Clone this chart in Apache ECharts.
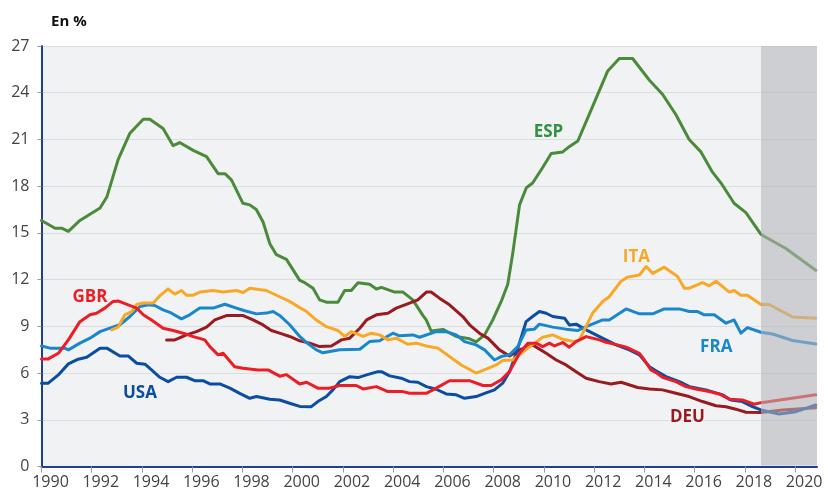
<!DOCTYPE html>
<html lang="fr">
<head>
    <meta charset="UTF-8">
    <title>Taux de chômage</title>
    <script src="https://cdn.jsdelivr.net/npm/echarts@6/dist/echarts.min.js"></script>
    <style>
        html, body { margin: 0; padding: 0; background: #fff; }
        #main { width: 828px; height: 493px; }
    </style>
</head>
<body>
    <div id="main"></div>
    <script type="text/javascript">
        // années (décimales) / taux en %
        var esp = [[1990.0,15.8],[1990.54,15.3],[1990.8,15.3],[1991.07,15.1],[1991.53,15.8],[1991.93,16.2],[1992.33,16.6],[1992.6,17.3],[1993.05,19.7],[1993.52,21.4],[1994.05,22.3],[1994.31,22.3],[1994.84,21.7],[1995.24,20.6],[1995.5,20.8],[1996.04,20.3],[1996.57,19.9],[1997.03,18.8],[1997.3,18.8],[1997.56,18.4],[1998.02,16.9],[1998.29,16.8],[1998.55,16.5],[1998.82,15.7],[1999.09,14.3],[1999.35,13.6],[1999.75,13.3],[2000.28,11.95],[2000.48,11.8],[2000.81,11.45],[2001.07,10.7],[2001.34,10.55],[2001.8,10.55],[2002.07,11.3],[2002.33,11.3],[2002.6,11.8],[2003.06,11.7],[2003.33,11.4],[2003.53,11.5],[2004.06,11.2],[2004.39,11.2],[2004.78,10.7],[2005.18,9.7],[2005.32,9.4],[2005.51,8.7],[2005.98,8.8],[2006.51,8.35],[2007.04,8.2],[2007.3,8.0],[2007.64,8.45],[2007.96,9.4],[2008.3,10.6],[2008.56,11.7],[2008.76,13.7],[2009.03,16.8],[2009.3,17.9],[2009.55,18.2],[2009.95,19.2],[2010.29,20.1],[2010.75,20.2],[2011.02,20.55],[2011.35,20.9],[2011.88,22.9],[2012.54,25.4],[2013.0,26.2],[2013.53,26.2],[2014.2,24.8],[2014.72,23.9],[2015.25,22.6],[2015.78,21.0],[2016.25,20.2],[2016.71,18.9],[2017.05,18.2],[2017.57,16.9],[2018.04,16.3],[2018.64,14.9],[2019.63,14.0],[2020.82,12.6]];
        var ita = [[1992.79,8.77],[1993.05,8.95],[1993.32,9.74],[1993.59,9.95],[1993.79,10.4],[1994.05,10.5],[1994.45,10.5],[1994.71,10.96],[1995.04,11.4],[1995.31,11.07],[1995.57,11.3],[1995.77,11.0],[1996.04,11.0],[1996.3,11.2],[1996.83,11.3],[1997.23,11.2],[1997.76,11.3],[1998.03,11.17],[1998.29,11.45],[1998.95,11.3],[1999.48,10.9],[1999.88,10.6],[2000.28,10.2],[2000.55,9.95],[2000.94,9.4],[2001.34,8.98],[2001.8,8.73],[2002.07,8.35],[2002.33,8.66],[2002.8,8.35],[2003.13,8.56],[2003.46,8.45],[2003.79,8.13],[2004.12,8.24],[2004.58,7.85],[2004.92,7.92],[2005.32,7.74],[2005.78,7.6],[2006.24,7.06],[2006.71,6.52],[2007.3,6.0],[2007.7,6.25],[2008.1,6.52],[2008.36,6.8],[2008.76,6.84],[2009.36,7.6],[2009.95,8.3],[2010.35,8.45],[2010.75,8.17],[2011.21,8.02],[2011.41,8.13],[2011.94,9.85],[2012.34,10.6],[2012.6,10.9],[2013.07,11.9],[2013.33,12.16],[2013.8,12.3],[2014.07,12.84],[2014.33,12.4],[2014.79,12.8],[2015.32,12.2],[2015.59,11.45],[2015.79,11.45],[2016.31,11.8],[2016.58,11.6],[2016.85,11.9],[2017.38,11.2],[2017.57,11.3],[2017.84,11.0],[2018.1,11.0],[2018.64,10.4],[2018.97,10.4],[2019.9,9.6],[2020.82,9.52]];
        var fra = [[1990.0,7.74],[1990.34,7.6],[1990.93,7.6],[1991.07,7.49],[1991.53,7.92],[1991.93,8.24],[1992.33,8.66],[1992.72,8.88],[1993.12,9.1],[1993.52,9.63],[1993.92,10.27],[1994.25,10.38],[1994.51,10.34],[1994.84,10.06],[1995.11,9.9],[1995.57,9.48],[1995.9,9.74],[1996.3,10.17],[1996.83,10.17],[1997.3,10.42],[1997.76,10.17],[1998.09,10.0],[1998.56,9.8],[1998.95,9.85],[1999.22,9.95],[1999.48,9.7],[1999.88,9.1],[2000.28,8.35],[2000.55,7.96],[2000.94,7.49],[2001.2,7.3],[2001.87,7.49],[2002.67,7.53],[2003.06,8.02],[2003.46,8.07],[2003.99,8.56],[2004.25,8.39],[2004.78,8.45],[2005.05,8.3],[2005.71,8.66],[2006.11,8.66],[2006.51,8.45],[2006.84,8.02],[2007.3,7.81],[2007.64,7.49],[2008.03,6.84],[2008.3,7.06],[2008.63,7.17],[2008.96,7.7],[2009.29,8.77],[2009.62,8.82],[2009.82,9.14],[2010.35,8.95],[2010.88,8.82],[2011.34,8.73],[2011.68,8.98],[2012.34,9.41],[2012.6,9.41],[2013.27,10.12],[2013.8,9.8],[2014.33,9.8],[2014.79,10.12],[2015.39,10.12],[2015.79,9.95],[2016.12,9.95],[2016.38,9.74],[2016.78,9.74],[2017.25,9.2],[2017.57,9.41],[2017.84,8.56],[2018.1,8.92],[2018.64,8.62],[2019.1,8.51],[2019.9,8.09],[2020.82,7.87]];
        var gbr = [[1990.0,6.91],[1990.27,6.91],[1990.67,7.27],[1991.07,8.13],[1991.53,9.3],[1991.93,9.74],[1992.19,9.84],[1992.52,10.17],[1992.85,10.6],[1993.05,10.63],[1993.45,10.38],[1993.79,10.17],[1994.05,9.74],[1994.38,9.41],[1994.84,8.88],[1995.24,8.73],[1995.64,8.56],[1996.04,8.34],[1996.5,8.13],[1996.7,7.7],[1997.03,7.17],[1997.23,7.27],[1997.69,6.41],[1998.02,6.31],[1998.62,6.2],[1999.02,6.2],[1999.48,5.8],[1999.75,5.9],[2000.01,5.6],[2000.28,5.3],[2000.55,5.41],[2001.0,5.03],[2001.47,5.03],[2001.87,5.2],[2002.53,5.2],[2002.8,4.98],[2003.33,5.13],[2003.79,4.81],[2004.39,4.81],[2004.65,4.7],[2005.32,4.7],[2005.71,5.03],[2006.24,5.51],[2007.04,5.51],[2007.57,5.2],[2007.9,5.2],[2008.3,5.56],[2008.63,6.1],[2009.03,7.27],[2009.36,7.92],[2009.69,7.92],[2009.95,7.7],[2010.22,7.92],[2010.42,7.74],[2010.75,7.96],[2011.01,7.66],[2011.28,8.02],[2011.68,8.34],[2012.21,8.13],[2012.47,7.98],[2012.93,7.81],[2013.27,7.66],[2013.8,7.27],[2014.0,6.84],[2014.26,6.2],[2014.46,6.03],[2014.72,5.73],[2015.25,5.45],[2015.65,5.13],[2016.05,4.98],[2016.58,4.81],[2016.98,4.66],[2017.38,4.32],[2017.9,4.27],[2018.37,4.0],[2018.64,4.1],[2020.82,4.6]];
        var usa = [[1990.0,5.35],[1990.27,5.35],[1990.67,5.88],[1991.07,6.59],[1991.46,6.89],[1991.8,7.02],[1992.33,7.6],[1992.6,7.6],[1993.12,7.1],[1993.45,7.1],[1993.79,6.63],[1994.12,6.57],[1994.38,6.2],[1994.71,5.73],[1995.04,5.45],[1995.38,5.73],[1995.77,5.73],[1996.1,5.51],[1996.43,5.51],[1996.7,5.3],[1997.1,5.3],[1997.5,5.03],[1997.89,4.7],[1998.29,4.38],[1998.56,4.49],[1999.09,4.32],[1999.48,4.27],[1999.88,4.06],[2000.28,3.86],[2000.74,3.84],[2001.0,4.17],[2001.34,4.49],[2001.6,4.92],[2001.87,5.45],[2002.27,5.77],[2002.6,5.71],[2002.94,5.88],[2003.39,6.09],[2003.53,6.09],[2003.86,5.82],[2004.32,5.67],[2004.65,5.45],[2004.98,5.41],[2005.32,5.13],[2005.71,4.96],[2006.11,4.66],[2006.51,4.6],[2006.84,4.38],[2007.3,4.49],[2007.64,4.7],[2008.03,4.92],[2008.36,5.35],[2008.63,6.09],[2008.9,7.27],[2009.29,9.3],[2009.55,9.63],[2009.82,9.95],[2010.09,9.84],[2010.35,9.63],[2010.82,9.52],[2011.01,9.09],[2011.28,9.14],[2011.68,8.77],[2012.21,8.34],[2012.87,7.81],[2013.4,7.49],[2013.8,7.17],[2014.2,6.41],[2014.46,6.14],[2014.86,5.77],[2015.39,5.45],[2015.79,5.13],[2016.45,4.92],[2017.11,4.6],[2017.44,4.27],[2017.9,4.17],[2018.3,3.84],[2018.64,3.63],[2019.36,3.37],[2020.03,3.52],[2020.82,3.95]];
        var deu = [[1994.98,8.13],[1995.31,8.13],[1995.77,8.45],[1996.17,8.66],[1996.57,8.95],[1996.9,9.41],[1997.36,9.69],[1998.03,9.69],[1998.42,9.41],[1998.82,9.09],[1999.15,8.73],[1999.48,8.56],[1999.88,8.35],[2000.28,8.07],[2000.68,7.92],[2001.07,7.7],[2001.54,7.74],[2001.94,8.13],[2002.27,8.24],[2002.67,8.88],[2002.94,9.41],[2003.33,9.74],[2003.79,9.84],[2004.12,10.17],[2004.65,10.49],[2004.98,10.7],[2005.32,11.2],[2005.51,11.2],[2005.84,10.81],[2006.24,10.38],[2006.77,9.63],[2007.04,9.1],[2007.43,8.56],[2007.77,8.24],[2008.23,7.49],[2008.63,7.1],[2009.03,7.49],[2009.55,7.81],[2010.09,7.27],[2010.49,6.84],[2010.88,6.52],[2011.28,6.09],[2011.68,5.67],[2012.2,5.45],[2012.67,5.3],[2013.07,5.41],[2013.73,5.07],[2014.2,4.98],[2014.72,4.92],[2015.25,4.7],[2015.78,4.49],[2016.31,4.17],[2016.85,3.9],[2017.25,3.84],[2017.64,3.68],[2018.04,3.48],[2018.64,3.46],[2019.5,3.63],[2020.82,3.78]];

        var countries = ['ESP', 'DEU', 'USA', 'FRA', 'ITA', 'GBR'];
        var values = {ESP: esp, DEU: deu, USA: usa, FRA: fra, ITA: ita, GBR: gbr};
        var yTicks = [0, 3, 6, 9, 12, 15, 18, 21, 24, 27];
        var forecastStart = 2018.64;
        var xMax = 2020.87;

        var colors = {ESP: '#4b8a3b', DEU: '#9a1b1f', USA: '#0b4da1', FRA: '#1a87cb', ITA: '#f9a826', GBR: '#ec1d25'};
        var labelColors = {ESP: '#2f9142', DEU: '#9a1b1f', USA: '#0b4da1', FRA: '#1a87cb', ITA: '#f9a826', GBR: '#ec1d25'};
        // position des étiquettes (année, valeur)
        var labelAt = {ESP: [2010.18, 21.5], ITA: [2013.68, 13.45], FRA: [2016.86, 7.68], GBR: [1991.93, 10.9], USA: [1993.92, 4.72], DEU: [2015.71, 3.18]};

        var myChart = echarts.init(document.getElementById('main'));

        var series = countries.map(function (c) {
            return {
                name: c,
                type: 'line',
                data: values[c],
                showSymbol: false,
                symbol: 'none',
                z: 3,
                lineStyle: {color: colors[c], width: 3, cap: 'round', join: 'round'}
            };
        });

        var option = {
            animation: false,
            textStyle: {fontFamily: 'Open Sans'},
            grid: {
                left: 41.5, right: 11, top: 46, bottom: 26.5,
                show: true, backgroundColor: '#f1f2f4', borderWidth: 0
            },
            title: {
                text: 'En %',
                left: 46, top: 9,
                textStyle: {fontFamily: 'Open Sans', fontSize: 15, fontWeight: 'bold', color: '#111'}
            },
            xAxis: {
                type: 'value',
                min: 1990, max: xMax, interval: 2,
                axisLine: {show: true, lineStyle: {color: '#1f3e96', width: 2}},
                axisTick: {show: true, length: 6, lineStyle: {color: '#9a9a9a', width: 1}},
                splitLine: {show: false},
                axisLabel: {
                    color: '#444', fontSize: 16, margin: 8,
                    padding: [0, 0, 0, 18],
                    showMaxLabel: false,
                    formatter: function (v) { return Math.round(v) === v ? String(v) : ''; }
                }
            },
            yAxis: {
                type: 'value',
                min: yTicks[0], max: yTicks[yTicks.length - 1], interval: 3,
                axisLine: {show: true, lineStyle: {color: '#1f3e96', width: 2}},
                axisTick: {show: true, length: 4, lineStyle: {color: '#9a9a9a'}},
                splitLine: {show: true, lineStyle: {color: '#dcdde1', width: 1}},
                axisLabel: {color: '#444', fontSize: 16, margin: 12}
            },
            series: series
        };
        myChart.setOption(option);

        // zone de prévision grisée, posée par-dessus les courbes
        var topLeft = myChart.convertToPixel({gridIndex: 0}, [forecastStart, yTicks[yTicks.length - 1]]);
        var bottomRight = myChart.convertToPixel({gridIndex: 0}, [xMax, yTicks[0]]);
        var graphics = [{
            type: 'rect',
            z: 100,
            silent: true,
            shape: {
                x: topLeft[0], y: topLeft[1],
                width: bottomRight[0] - topLeft[0],
                height: bottomRight[1] - topLeft[1] - 1
            },
            style: {fill: 'rgba(180,182,186,0.57)'}
        }];

        Object.keys(labelAt).forEach(function (c) {
            var p = myChart.convertToPixel({gridIndex: 0}, labelAt[c]);
            graphics.push({
                type: 'text',
                x: p[0], y: p[1], z: 110,
                style: {
                    text: c, fill: labelColors[c],
                    font: 'bold 17px "Open Sans"',
                    align: 'center', verticalAlign: 'middle'
                }
            });
        });
        myChart.setOption({graphic: graphics});
    </script>
</body>
</html>
